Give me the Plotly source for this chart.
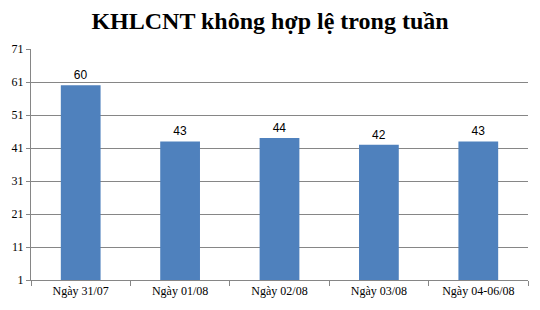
import plotly.graph_objects as go

categories = ["Ngày 31/07", "Ngày 01/08", "Ngày 02/08", "Ngày 03/08", "Ngày 04-06/08"]
values = [60, 43, 44, 42, 43]
y_ticks = [1, 11, 21, 31, 41, 51, 61, 71]

fig = go.Figure()
fig.add_trace(go.Bar(
    x=categories, y=values,
    marker=dict(color="#4F81BD", line=dict(width=0)),
    text=[str(v) for v in values],
    textposition="outside",
    textfont=dict(family="Liberation Sans, Arial, sans-serif", size=12, color="#000000"),
    cliponaxis=False,
))

fig.update_layout(
    width=540, height=310,
    margin=dict(l=28, r=12, t=49, b=29),
    paper_bgcolor="#FFFFFF", plot_bgcolor="#FFFFFF",
    bargap=0.6,
    showlegend=False,
    title=dict(text="<b>KHLCNT không hợp lệ trong tuần</b>",
               x=0.5, xanchor="center", y=0.935, yanchor="middle",
               font=dict(family="Liberation Serif, Times New Roman, serif", size=24, color="#000000")),
    xaxis=dict(
        showline=True, linecolor="#868686", linewidth=1,
        ticks="outside", tickson="boundaries", ticklen=5, tickcolor="#868686",
        tickfont=dict(family="Liberation Serif, Times New Roman, serif", size=12, color="#000000"),
        showgrid=False,
    ),
    yaxis=dict(
        range=[1, 71], tickvals=y_ticks,
        showline=True, linecolor="#868686", linewidth=1,
        ticks="outside", ticklen=4, tickcolor="#868686",
        showgrid=True, gridcolor="#868686", gridwidth=1,
        tickfont=dict(family="Liberation Serif, Times New Roman, serif", size=12, color="#000000"),
        zeroline=False,
    ),
)

fig.write_html("out.html")
